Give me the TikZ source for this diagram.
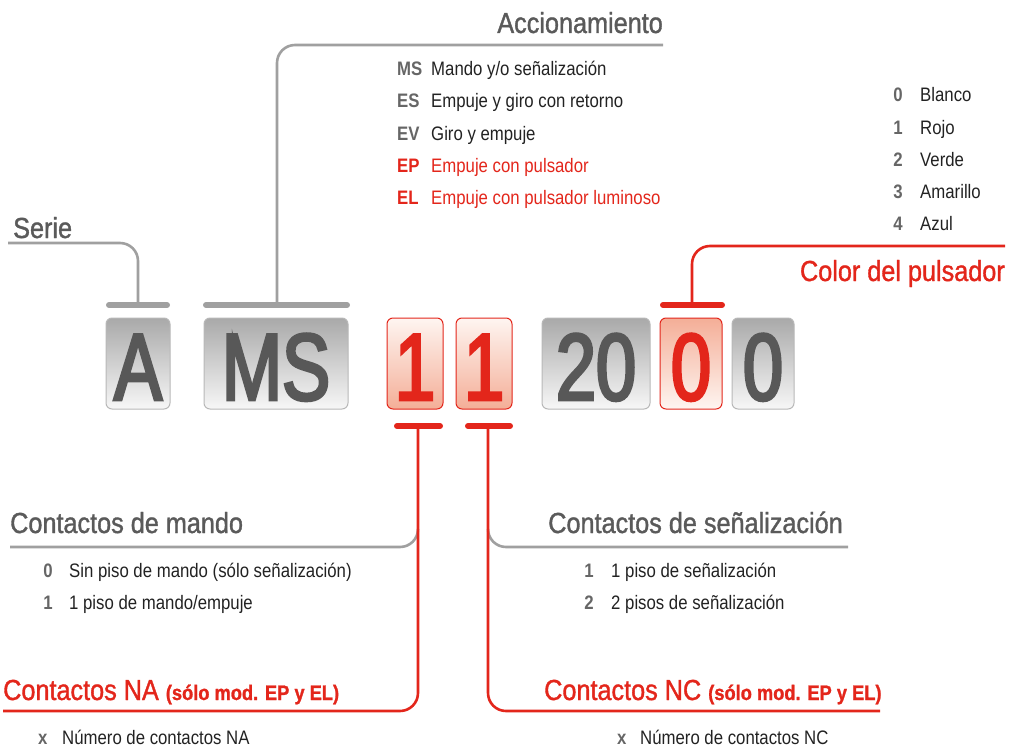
\documentclass[tikz,border=0pt]{standalone}
\usepackage{fontspec}
\setmainfont[FakeStretch=0.86]{Liberation Sans}
\newfontfamily\titlefont[FakeStretch=0.87, FakeBold=1.2]{Liberation Sans}
\newfontfamily\digitfont[FakeStretch=0.76, FakeBold=3]{Liberation Sans}
\usetikzlibrary{positioning}

\definecolor{rojo}{HTML}{E3261B}
\definecolor{grisT}{HTML}{5A5A5A}
\definecolor{grisL}{HTML}{A0A0A0}
\definecolor{grisC}{HTML}{666666}
\definecolor{grisB}{HTML}{B8B8B8}
\definecolor{grisO}{HTML}{A9A9A9}
\definecolor{grisW}{HTML}{F7F7F7}
\definecolor{texto}{HTML}{222222}
\definecolor{salmon}{HTML}{F4AE97}
\definecolor{rosa}{HTML}{FEF5F1}
\definecolor{digito}{HTML}{585858}

\tikzset{
  titulo/.style={font=\titlefont\fontsize{29}{31}\selectfont, text=grisT, inner sep=0pt},
  item/.style={font=\fontsize{19.5}{22}\selectfont, inner sep=0pt, anchor=base west},
  codigo/.style={font=\fontsize{19.5}{22}\selectfont\bfseries, text=grisC, inner sep=0pt},
  caja/.style={rounded corners=6pt, minimum height=91pt, inner sep=0pt, line width=1pt,
    font=\digitfont\fontsize{95}{95}\selectfont, text height=73pt, text depth=0pt},
  cajagris/.style={caja, draw=grisB, top color=grisO, bottom color=grisW, text=digito},
  cajaroja/.style={caja, draw=rojo, top color=rosa, bottom color=salmon, text=rojo},
  cajarojainv/.style={caja, draw=rojo, top color=salmon, bottom color=rosa, text=rojo},
  linea/.style={line width=2.6pt, rounded corners=18pt},
  barra/.style={line width=6pt, line cap=round},
}

\begin{document}
\begin{tikzpicture}[x=1pt, y=-1pt]
  \useasboundingbox (0,0) rectangle (1011,749);

  % Codigo
  \node[cajagris, minimum width=64pt] (cA) at (138,363.5) {A};
  \node[cajagris, minimum width=144pt] (cMS) at (276,363.5) {MS};
  \node[cajaroja, minimum width=56pt] (cNA) at (415,363.5) {1};
  \node[cajaroja, minimum width=56pt] (cNC) at (484,363.5) {1};
  \node[cajagris, minimum width=108pt] (c20) at (596,363.5) {20};
  \node[cajarojainv, minimum width=62pt] (cCol) at (691,363.5) {0};
  \node[cajagris, minimum width=62pt] (c0) at (763,363.5) {0};

  % Barras
  \draw[barra, grisL] (109,305) -- (167,305);
  \draw[barra, grisL] (206,305) -- (347,305);
  \draw[barra, rojo] (663,305) -- (722,305);
  \draw[barra, rojo] (397,426) -- (440,426);
  \draw[barra, rojo] (468,426) -- (510,426);

  \coordinate (pSerie) at (138,305);
  \coordinate (pAcc) at (277,305);
  \coordinate (pCol) at (692,305);
  \coordinate (pNA) at (418,426);
  \coordinate (pNC) at (488,426);

  % Serie
  \node[titulo, anchor=base west] (serie) at (13,238) {Serie};
  \coordinate (lSerie) at (8,243);
  \draw[linea, grisL] (lSerie) -| (pSerie);

  % Accionamiento
  \node[titulo, anchor=base east] (acc) at (663,33) {Accionamiento};
  \coordinate (lAcc) at (663,45);
  \draw[linea, grisL] (lAcc) -| (pAcc);
  \foreach \c/\cc/\ct/\t [count=\i from 0] in {MS/grisC/texto/{Mando y/o señalización},
      ES/grisC/texto/{Empuje y giro con retorno}, EV/grisC/texto/{Giro y empuje},
      EP/rojo/rojo/{Empuje con pulsador}, EL/rojo/rojo/{Empuje con pulsador luminoso}} {
    \node[codigo, anchor=base west, text=\cc] (acc\i) at (397,{76+32*\i}) {\c};
    \node[item, text=\ct] at (431,{76+32*\i}) {\t};
  }

  % Color del pulsador
  \node[titulo, anchor=base east, text=rojo] (col) at (1005,281) {Color del pulsador};
  \coordinate (lCol) at (1005,246);
  \draw[linea, rojo] (lCol) -| (pCol);
  \foreach \c/\t [count=\i from 0] in {0/Blanco, 1/Rojo, 2/Verde, 3/Amarillo, 4/Azul} {
    \node[codigo, anchor=base east] (col\i) at (903,{102+32*\i}) {\c};
    \node[item, text=texto] at (920,{102+32*\i}) {\t};
  }

  % Contactos de mando / NA
  \node[titulo, anchor=base west] (mando) at (10,533) {Contactos de mando};
  \coordinate (lMando) at (10,547);
  \draw[linea, grisL] (lMando) -| (418,529);
  \foreach \c/\t [count=\i from 0] in {0/{Sin piso de mando (sólo señalización)}, 1/{1 piso de mando/empuje}} {
    \node[codigo, anchor=base east] (mando\i) at (53,{577+32*\i}) {\c};
    \node[item, text=texto] at (69,{577+32*\i}) {\t};
  }
  \node[titulo, anchor=base west, text=rojo] (na) at (3,700)
    {Contactos NA {\fontsize{21}{23}\selectfont\bfseries (sólo mod. EP y EL)}};
  \coordinate (lNA) at (3,711);
  \draw[linea, rojo] (lNA) -| (pNA);
  \node[codigo, anchor=base west] (naX) at (38,744) {x};
  \node[item, text=texto] at (62,744) {Número de contactos NA};

  % Contactos de senalizacion / NC
  \node[titulo, anchor=base east] (senal) at (843,533) {Contactos de señalización};
  \coordinate (lSenal) at (848,547);
  \draw[linea, grisL] (lSenal) -| (488,529);
  \foreach \c/\t [count=\i from 0] in {1/{1 piso de señalización}, 2/{2 pisos de señalización}} {
    \node[codigo, anchor=base east] (senal\i) at (594,{577+32*\i}) {\c};
    \node[item, text=texto] at (611,{577+32*\i}) {\t};
  }
  \node[titulo, anchor=base west, text=rojo] (nc) at (544,700)
    {Contactos NC {\fontsize{21}{23}\selectfont\bfseries (sólo mod. EP y EL)}};
  \coordinate (lNC) at (880,711);
  \draw[linea, rojo] (lNC) -| (pNC);
  \node[codigo, anchor=base west] (ncX) at (617,744) {x};
  \node[item, text=texto] at (640,744) {Número de contactos NC};
\end{tikzpicture}
\end{document}
